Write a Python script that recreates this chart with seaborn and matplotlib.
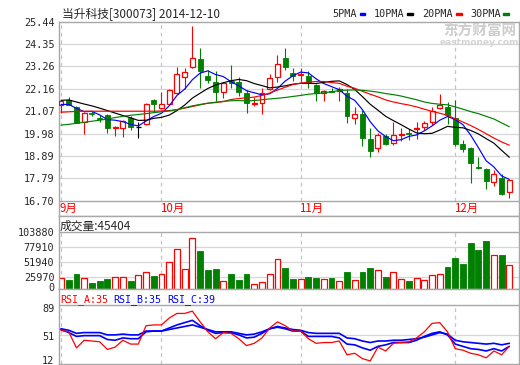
import numpy as np
import pandas as pd
import seaborn as sns
import matplotlib.pyplot as plt
from matplotlib.patches import Rectangle

sns.set_style("white")
plt.rcParams['font.family'] = ['DejaVu Sans Mono', 'Noto Sans CJK SC']
CJK = ['Noto Sans CJK SC', 'DejaVu Sans']

# ---- data ----
stock_title = "当升科技[300073] 2014-12-10"
month_labels = ["9月", "10月", "11月", "12月"]
month_start = [0, 13, 31, 51]

opens = [21.37, 21.60, 21.29, 20.56, 20.98, 20.72, 20.88, 20.23, 20.23, 20.72,
         20.31, 20.43, 21.62, 21.21, 21.42, 21.94, 22.75, 23.24, 23.62, 22.79,
         22.48, 22.02, 22.56, 22.51, 21.94, 21.44, 21.45, 22.15, 22.72, 23.65,
         22.92, 22.84, 22.80, 22.35, 21.96, 22.06, 22.06, 21.94, 20.72, 20.92,
         19.71, 19.26, 19.87, 19.50, 19.92, 19.99, 20.18, 20.28, 20.53, 21.21,
         21.26, 20.72, 19.47, 19.29, 18.34, 18.25, 17.59, 17.79, 17.11]
highs = [21.57, 21.75, 21.34, 21.01, 21.08, 20.88, 20.92, 20.33, 20.66, 20.85,
         20.55, 21.48, 21.65, 22.00, 22.13, 23.24, 23.19, 25.23, 24.17, 23.08,
         23.03, 22.51, 23.32, 22.75, 22.10, 21.78, 22.19, 22.87, 23.81, 24.17,
         23.19, 23.19, 23.03, 22.40, 22.10, 22.19, 22.27, 22.15, 21.29, 21.13,
         20.23, 19.99, 19.94, 20.52, 20.25, 20.18, 20.52, 20.59, 21.27, 21.91,
         21.50, 21.62, 19.66, 19.32, 18.85, 18.31, 18.20, 17.99, 17.71]
lows = [21.00, 21.35, 20.47, 19.94, 20.85, 20.55, 20.02, 19.86, 19.80, 20.15,
        19.78, 20.38, 21.05, 21.18, 21.40, 21.90, 22.15, 23.19, 22.22, 22.43,
        21.57, 21.73, 22.18, 21.83, 21.00, 21.32, 20.95, 22.10, 22.51, 23.10,
        22.54, 22.51, 22.22, 21.58, 21.58, 21.99, 21.58, 20.51, 20.46, 19.38,
        18.85, 19.06, 19.42, 19.42, 19.60, 19.66, 19.71, 20.15, 20.40, 21.16,
        20.46, 19.37, 19.09, 17.58, 18.27, 17.27, 17.43, 16.98, 16.85]
closes = [21.55, 21.38, 20.47, 20.96, 20.95, 20.68, 20.23, 20.31, 20.61, 20.31,
          20.31, 21.42, 21.41, 21.42, 22.10, 22.87, 22.97, 23.68, 23.05, 22.61,
          21.99, 22.46, 22.45, 22.02, 21.45, 21.47, 21.97, 22.67, 23.36, 23.21,
          22.79, 22.87, 22.46, 21.94, 22.04, 22.02, 22.15, 20.85, 20.92, 19.74,
          19.14, 19.91, 19.45, 19.91, 19.98, 19.95, 20.24, 20.48, 21.10, 21.37,
          20.88, 19.47, 19.22, 18.56, 18.31, 17.68, 17.98, 17.03, 17.71]

ma5 = [21.40, 21.40, 21.21, 21.05, 21.06, 20.89, 20.66, 20.63, 20.56, 20.43,
       20.35, 20.59, 20.81, 20.97, 21.33, 21.84, 22.15, 22.61, 22.93, 23.04,
       22.86, 22.76, 22.51, 22.31, 22.07, 21.97, 21.87, 21.92, 22.18, 22.54,
       22.80, 22.98, 22.94, 22.65, 22.42, 22.27, 22.12, 21.80, 21.60, 21.14,
       20.56, 20.11, 19.83, 19.63, 19.68, 19.84, 19.91, 20.11, 20.35, 20.63,
       20.81, 20.66, 20.41, 19.90, 19.29, 18.65, 18.35, 17.91, 17.74]
ma10 = [21.60, 21.62, 21.52, 21.42, 21.33, 21.22, 21.10, 20.98, 20.86, 20.75,
        20.62, 20.63, 20.72, 20.77, 20.88, 21.10, 21.37, 21.71, 21.95, 22.18,
        22.35, 22.46, 22.56, 22.62, 22.56, 22.42, 22.32, 22.21, 22.25, 22.31,
        22.39, 22.43, 22.43, 22.42, 22.48, 22.53, 22.55, 22.37, 22.13, 21.78,
        21.41, 21.12, 20.82, 20.61, 20.41, 20.20, 20.01, 19.97, 19.99, 20.15,
        20.33, 20.28, 20.26, 20.13, 19.96, 19.73, 19.51, 19.16, 18.82]
ma20 = [21.02, 21.04, 21.06, 21.07, 21.07, 21.07, 21.07, 21.07, 21.07, 21.07,
        21.07, 21.07, 21.07, 21.08, 21.10, 21.15, 21.22, 21.30, 21.38, 21.46,
        21.49, 21.54, 21.64, 21.69, 21.72, 21.76, 21.84, 21.96, 22.10, 22.24,
        22.37, 22.44, 22.49, 22.52, 22.52, 22.47, 22.43, 22.29, 22.19, 22.04,
        21.90, 21.77, 21.62, 21.52, 21.44, 21.37, 21.28, 21.17, 21.06, 20.97,
        20.87, 20.70, 20.54, 20.37, 20.18, 19.97, 19.76, 19.57, 19.41]
ma30 = [20.39, 20.43, 20.48, 20.53, 20.58, 20.63, 20.69, 20.76, 20.82, 20.87,
        20.91, 20.95, 21.00, 21.04, 21.08, 21.14, 21.24, 21.33, 21.40, 21.46,
        21.51, 21.55, 21.58, 21.59, 21.57, 21.59, 21.63, 21.67, 21.70, 21.74,
        21.79, 21.84, 21.90, 21.93, 21.97, 22.02, 22.08, 22.10, 22.11, 22.09,
        22.05, 22.00, 21.93, 21.88, 21.81, 21.72, 21.63, 21.52, 21.45, 21.41,
        21.38, 21.28, 21.17, 21.05, 20.95, 20.82, 20.69, 20.50, 20.31]

volumes = [23090, 20200, 30590, 23090, 15580, 18470, 21930, 25970, 24820, 18470,
           28280, 34630, 27120, 30010, 50790, 73290, 38670, 92340, 70410, 37510,
           39240, 19050, 30590, 20200, 30590, 12700, 16160, 30010, 55980, 40400,
           21350, 21350, 24820, 23090, 21350, 23090, 17890, 33470, 19620, 33470,
           40400, 36940, 24820, 33470, 21350, 17890, 23090, 19620, 28280, 30010,
           42130, 57710, 47900, 83680, 72140, 87720, 62910, 63480, 45404]

rsi_a = [56, 54, 33, 43, 42, 41, 31, 34, 43, 38, 38, 62, 63, 63, 72, 78, 78, 81, 67, 54,
         45, 53, 52, 45, 36, 39, 46, 59, 67, 62, 55, 55, 45, 39, 40, 40, 42, 24, 26, 19,
         16, 34, 29, 39, 40, 41, 46, 54, 65, 66, 54, 32, 30, 26, 24, 20, 29, 24, 35]
rsi_b = [57, 53, 48, 49, 49, 49, 44, 43, 46, 45, 45, 54, 55, 55, 59, 63, 66, 69, 62, 56,
         52, 53, 53, 50, 46, 47, 52, 58, 60, 58, 55, 55, 48, 48, 48, 48, 46, 38, 37, 33,
         30, 35, 37, 40, 40, 40, 43, 48, 52, 54, 50, 38, 35, 32, 31, 29, 32, 29, 35]
rsi_c = [58, 56, 52, 53, 53, 53, 50, 50, 51, 50, 50, 55, 55, 55, 57, 59, 61, 63, 60, 57,
         54, 54, 54, 52, 50, 51, 54, 58, 61, 59, 57, 56, 53, 52, 52, 52, 52, 46, 45, 42,
         40, 42, 42, 43, 43, 44, 45, 47, 50, 53, 51, 43, 41, 40, 39, 38, 39, 37, 39]

price_ticks = [16.70, 17.79, 18.89, 19.98, 21.07, 22.16, 23.26, 24.35, 25.44]
price_labels = ["16.70", "17.79", "18.89", "19.98", "21.07", "22.16", "23.26", "24.35", "25.44"]
vol_ticks = [25970, 51940, 77910, 103880]
vol_labels = ["0", "25970", "51940", "77910", "103880"]
rsi_range = [12, 89]
rsi_labels = ["12", "51", "89"]

ma_names = ["5PMA", "10PMA", "20PMA", "30PMA"]
ma_colors = ["#0000ff", "#000000", "#ff0000", "#008000"]

UP, DOWN = "#ff0000", "#008000"
BORDER, GRID, DASH = "#a8a8a8", "#d6d6d6", "#c4c4c4"

# ---- layout ----
W, H = 520.0, 365.0
LEFT, RIGHT = 58.5, 519.0
fig = plt.figure(figsize=(5.2, 3.65), dpi=100)


def panel(top, bottom):
    return fig.add_axes([LEFT / W, 1 - bottom / H, (RIGHT - LEFT) / W, (bottom - top) / H])


def lin(px, px0, v0, px1, v1):
    return v0 + (px - px0) * (v1 - v0) / (px1 - px0)


ax_p = panel(21.7, 216.0)
ax_v = panel(216.0, 289.0)
ax_r = panel(289.0, 364.0)

idx = np.arange(len(closes))
o, h, l, c = map(np.array, (opens, highs, lows, closes))
up = c > o
down = c < o
flat = c == o
xlim = ((LEFT - 61) / 7.73, (RIGHT - 61) / 7.73)

# ---- price panel ----
p_lo = lin(216, 21.7, price_ticks[-1], 200.7, price_ticks[0])
ax_p.set_ylim(p_lo, price_ticks[-1])
for t in price_ticks[1:-1]:
    ax_p.axhline(t, color=GRID, lw=0.9, zorder=0)
ax_p.axhline(price_ticks[0], color=BORDER, lw=1.0, zorder=1)
ax_p.vlines(month_start, price_ticks[0], price_ticks[-1], colors=DASH,
            linestyles=(0, (3, 3)), lw=0.9, zorder=0)
for m, lab in zip(month_start, month_labels):
    ax_p.text(m - 0.2, (price_ticks[0] + p_lo) / 2, lab, color="red", fontsize=8.3,
              ha="left", va="center", family=CJK)

wick_cols = np.where(up, UP, np.where(down, DOWN, "#000000"))
ax_p.vlines(idx, l, h, colors=wick_cols, lw=0.8, zorder=2)
ax_p.bar(idx[up], (c - o)[up], bottom=o[up], width=0.64, facecolor="white",
         edgecolor=UP, lw=0.9, zorder=3)
ax_p.bar(idx[down], (o - c)[down], bottom=c[down], width=0.64, facecolor=DOWN,
         edgecolor=DOWN, lw=0.6, zorder=3)
ax_p.hlines(o[flat], idx[flat] - 0.35, idx[flat] + 0.35, colors="#000000", lw=0.9, zorder=3)

ma_df = pd.DataFrame({"idx": idx, "5PMA": ma5, "10PMA": ma10, "20PMA": ma20, "30PMA": ma30})
ma_long = ma_df.melt(id_vars="idx", var_name="line", value_name="price")
sns.lineplot(data=ma_long, x="idx", y="price", hue="line", hue_order=ma_names,
             palette=dict(zip(ma_names, ma_colors)), linewidth=0.85, legend=False,
             ax=ax_p, zorder=4)

ax_p.set_yticks(price_ticks, labels=price_labels)

# ---- volume panel ----
v_lo = lin(289, 231.7, vol_ticks[-1], 276.7, vol_ticks[0])
v_hi = lin(216, 231.7, vol_ticks[-1], 276.7, vol_ticks[0])
ax_v.set_ylim(v_lo, v_hi)
for t in vol_ticks[:-1]:
    ax_v.axhline(t, color=GRID, lw=0.9, zorder=0)
ax_v.axhline(vol_ticks[-1], color=BORDER, lw=1.0, zorder=1)
ax_v.vlines(month_start, v_lo, vol_ticks[-1], colors=DASH, linestyles=(0, (3, 3)),
            lw=0.9, zorder=0)
vol = np.array(volumes)
vup = c >= o
ax_v.bar(idx[vup], vol[vup], width=0.76, facecolor="white", edgecolor=UP, lw=0.9, zorder=2)
ax_v.bar(idx[~vup], vol[~vup], width=0.76, facecolor=DOWN, edgecolor=DOWN, lw=0.6, zorder=2)
ax_v.set_yticks([lin(286.7, 231.7, vol_ticks[-1], 276.7, vol_ticks[0])] + vol_ticks,
                labels=vol_labels)
fig.text(60 / W, 1 - 226 / H, f"成交量:{volumes[-1]}", fontsize=8.5, va="center",
         ha="left", family=CJK)

# ---- RSI panel ----
r_hi = lin(289, 305, rsi_range[1], 364, rsi_range[0])
ax_r.set_ylim(rsi_range[0], r_hi)
r_mid = sum(rsi_range) / 2
ax_r.axhline(r_mid, color=GRID, lw=0.9, zorder=0)
ax_r.axhline(rsi_range[1], color=BORDER, lw=1.0, zorder=1)
ax_r.vlines(month_start, rsi_range[0], rsi_range[1], colors=DASH,
            linestyles=(0, (3, 3)), lw=0.9, zorder=0)
sns.lineplot(x=idx, y=rsi_c, color="#0000ff", linewidth=1.2, ax=ax_r, zorder=3)
sns.lineplot(x=idx, y=rsi_b, color="#0000ff", linewidth=1.2, ax=ax_r, zorder=3)
sns.lineplot(x=idx, y=rsi_a, color="#ff0000", linewidth=0.9, ax=ax_r, zorder=4)
ax_r.set_yticks([lin(360, 305, rsi_range[1], 364, rsi_range[0]),
                 lin(336, 305, rsi_range[1], 364, rsi_range[0]),
                 lin(307.5, 305, rsi_range[1], 364, rsi_range[0])], labels=rsi_labels)
for xp, txt, col in [(60, f"RSI_A:{rsi_a[-1]}", "#ff0000"),
                     (113, f"RSI_B:{rsi_b[-1]}", "#0000ff"),
                     (167, f"RSI_C:{rsi_c[-1]}", "#0000ff")]:
    fig.text(xp / W, 1 - 300 / H, txt, color=col, fontsize=7.2, va="center", ha="left")

# ---- common styling ----
for ax in (ax_p, ax_v, ax_r):
    ax.set_xlim(*xlim)
    ax.set_xticks([])
    ax.set_xlabel("")
    ax.set_ylabel("")
    ax.tick_params(axis="y", length=0, pad=3, labelsize=7.3)
    for s in ax.spines.values():
        s.set_color(BORDER)
        s.set_linewidth(1.0)

# ---- header texts ----
fig.text(62 / W, 1 - 13.5 / H, stock_title, fontsize=8.5, va="center", ha="left", family=CJK)
leg_text_x = [332, 374, 422, 470]
leg_mark_x = [359.5, 407, 456, 503]
for name, col, tx, mx in zip(ma_names, ma_colors, leg_text_x, leg_mark_x):
    fig.text(tx / W, 1 - 14 / H, name, fontsize=7.3, va="center", ha="left")
    fig.add_artist(Rectangle((mx / W, 1 - 15.2 / H), 5.5 / W, 2.6 / H,
                             transform=fig.transFigure, color=col))

# watermark
fig.text(480 / W, 1 - 31 / H, "东方财富网", fontsize=10.5, color="#cdcdcd",
         fontweight="bold", ha="center", va="center", family=CJK)
fig.text(479 / W, 1 - 42.5 / H, "eastmoney.com", fontsize=6.5, color="#d4d4d4",
         fontweight="bold", ha="center", va="center", family=["DejaVu Sans"])

fig.savefig("out.png", dpi=100)
